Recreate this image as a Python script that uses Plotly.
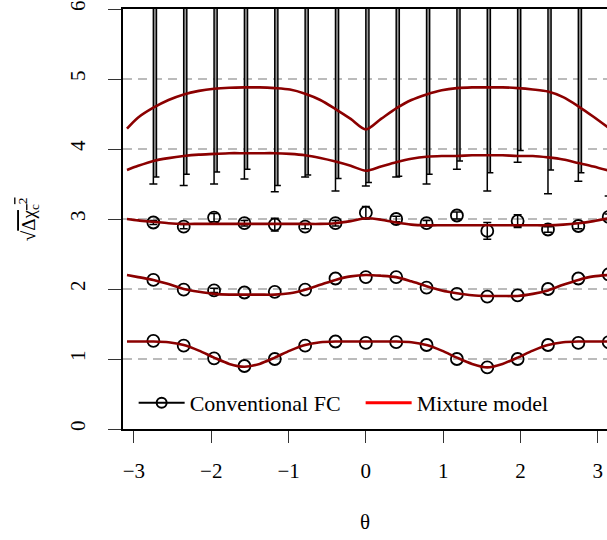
import math
import plotly.graph_objects as go

# ---------------- data ----------------
PI = math.pi
# measurement angles (k*pi/8, k=-7..8)
theta_pts = [k * PI / 8 for k in range(-7, 9)]

# Conventional FC estimates (three visible series)
conv_s1 = [1.26, 1.19, 1.01, 0.90, 1.00, 1.19, 1.25, 1.23, 1.24, 1.20, 1.00, 0.88, 1.00, 1.20, 1.23, 1.24]
conv_s2 = [2.13, 1.99, 1.98, 1.95, 1.96, 1.99, 2.15, 2.17, 2.17, 2.02, 1.93, 1.89, 1.91, 2.00, 2.15, 2.21]
conv_s3 = [2.95, 2.89, 3.02, 2.94, 2.92, 2.89, 2.94, 3.09, 3.00, 2.94, 3.05, 2.83, 2.97, 2.85, 2.90, 3.03]
err_s2 = [0, 0, 0.03, 0, 0, 0, 0, 0, 0, 0, 0, 0, 0, 0, 0, 0]
err_s3 = [0.03, 0.03, 0.06, 0.04, 0.09, 0.03, 0.04, 0.09, 0.04, 0.04, 0.05, 0.12, 0.09, 0.04, 0.04, 0.04]

# two upper series: estimates lie above the plotted range, only lower error bounds visible
conv_hidden = [7.5] * 16
lower_a = [3.50, 3.48, 3.50, 3.57, 3.39, 3.60, 3.40, 3.47, 3.60, 3.50, 3.71, 3.40, 3.81, 3.36, 3.54, 3.33]
lower_b = [3.60, 3.64, 3.67, 3.71, 3.48, 3.63, 3.58, 3.52, 3.61, 3.64, 3.83, 3.66, 3.98, 3.70, 3.66, 3.55]

# mixture model curves
theta_curve = [-3.09] + [j * PI / 16 for j in range(-15, 17)]
mix_a = [4.29, 4.45, 4.59, 4.70, 4.78, 4.83, 4.86, 4.875, 4.88, 4.88, 4.87, 4.85, 4.79, 4.70, 4.57, 4.43,
         4.28, 4.43, 4.58, 4.70, 4.78, 4.84, 4.87, 4.88, 4.88, 4.88, 4.87, 4.85, 4.82, 4.74, 4.61, 4.46, 4.30]
mix_b = [3.70, 3.76, 3.83, 3.87, 3.90, 3.92, 3.93, 3.94, 3.94, 3.94, 3.94, 3.93, 3.91, 3.87, 3.82, 3.76,
         3.69, 3.75, 3.81, 3.86, 3.89, 3.90, 3.90, 3.91, 3.91, 3.91, 3.90, 3.90, 3.88, 3.85, 3.80, 3.75, 3.69]
mix_c = [3.00, 2.98, 2.96, 2.94, 2.93, 2.93, 2.93, 2.93, 2.93, 2.93, 2.93, 2.93, 2.93, 2.93, 2.94, 2.97,
         3.01, 2.99, 2.95, 2.92, 2.91, 2.91, 2.91, 2.91, 2.91, 2.91, 2.91, 2.91, 2.91, 2.92, 2.94, 2.97, 3.01]
mix_d = [2.20, 2.17, 2.13, 2.07, 2.00, 1.96, 1.93, 1.92, 1.92, 1.92, 1.92, 1.94, 1.99, 2.06, 2.13, 2.18,
         2.20, 2.19, 2.17, 2.11, 2.04, 1.98, 1.94, 1.91, 1.90, 1.90, 1.90, 1.93, 1.98, 2.06, 2.13, 2.18, 2.20]
mix_e = [1.25, 1.25, 1.25, 1.24, 1.20, 1.12, 1.02, 0.93, 0.89, 0.93, 1.02, 1.12, 1.20, 1.24, 1.25, 1.25,
         1.25, 1.25, 1.25, 1.24, 1.20, 1.12, 1.02, 0.93, 0.88, 0.93, 1.02, 1.12, 1.20, 1.24, 1.25, 1.25, 1.25]

x_ticks = [-3, -2, -1, 0, 1, 2, 3]
y_ticks = [0, 1, 2, 3, 4, 5, 6]

# ---------------- figure ----------------
FONT = "Liberation Serif"
DARKRED = "#8B0000"
fig = go.Figure()

# upper error bars (two overlapping series, slightly offset)
fig.add_trace(go.Scatter(
    x=[t + 0.02 for t in theta_pts], y=conv_hidden, mode="markers",
    marker=dict(size=1, opacity=0), showlegend=False, hoverinfo="skip",
    error_y=dict(type="data", symmetric=False, array=[0] * 16,
                 arrayminus=[h - lo for h, lo in zip(conv_hidden, lower_b)],
                 color="#999999", thickness=2.5, width=0)))
fig.add_trace(go.Scatter(
    x=theta_pts, y=conv_hidden, mode="markers",
    marker=dict(size=1, opacity=0), showlegend=False, hoverinfo="skip",
    error_y=dict(type="data", symmetric=False, array=[0] * 16,
                 arrayminus=[h - lo for h, lo in zip(conv_hidden, lower_a)],
                 color="black", thickness=1.5, width=4)))
fig.add_trace(go.Scatter(
    x=[t + 0.04 for t in theta_pts], y=conv_hidden, mode="markers",
    marker=dict(size=1, opacity=0), showlegend=False, hoverinfo="skip",
    error_y=dict(type="data", symmetric=False, array=[0] * 16,
                 arrayminus=[h - lo for h, lo in zip(conv_hidden, lower_b)],
                 color="black", thickness=1.5, width=3)))

# visible conventional FC points
for vals, errs in [(conv_s1, None), (conv_s2, err_s2), (conv_s3, err_s3)]:
    if errs is not None:
        idx = [i for i, e in enumerate(errs) if e > 0]
        fig.add_trace(go.Scatter(
            x=[theta_pts[i] for i in idx], y=[vals[i] for i in idx], mode="markers",
            marker=dict(size=1, opacity=0), showlegend=False, hoverinfo="skip",
            error_y=dict(type="data", array=[errs[i] for i in idx],
                         color="black", thickness=1.5, width=4)))
    fig.add_trace(go.Scatter(
        x=theta_pts, y=vals, mode="markers",
        marker=dict(symbol="circle-open", size=12, color="black", line=dict(width=1.8)),
        showlegend=False))

# mixture model curves
for ys in [mix_a, mix_b, mix_c, mix_d, mix_e]:
    fig.add_trace(go.Scatter(
        x=theta_curve, y=ys, mode="lines",
        line=dict(color=DARKRED, width=2.6, shape="spline", smoothing=0.8),
        showlegend=False))

# legend entries (one legend box each, placed side by side)
fig.add_trace(go.Scatter(
    x=[None], y=[None], mode="lines+markers", name="Conventional FC", legend="legend",
    line=dict(color="black", width=2.2),
    marker=dict(symbol="circle-open", size=10, color="black", line=dict(width=2))))
fig.add_trace(go.Scatter(
    x=[None], y=[None], mode="lines", name="Mixture model", legend="legend2",
    line=dict(color="#FF0000", width=3)))

legend_common = dict(orientation="h", xanchor="left", y=0.062, yanchor="middle",
                     bgcolor="rgba(0,0,0,0)", font=dict(family=FONT, size=22), itemwidth=46)

fig.update_layout(
    width=607, height=540,
    margin=dict(l=123, r=0, t=9, b=111),
    paper_bgcolor="white", plot_bgcolor="white",
    font=dict(family=FONT, size=21, color="black"),
    showlegend=True,
    legend=dict(x=0.022, **legend_common),
    legend2=dict(x=0.491, **legend_common),
    xaxis=dict(range=[-PI, 3.1197], tickvals=x_ticks, ticktext=[("\u2212" + str(-v)) if v < 0 else str(v) for v in x_ticks],
               ticks="outside", ticklen=12, tickwidth=1.2, tickcolor="#333333",
               showline=True, linecolor="black", linewidth=2, mirror=True,
               showgrid=False, zeroline=False, ticklabelstandoff=10,
               ticklabeloverflow="allow",
               tickfont=dict(family=FONT, size=21)),
    yaxis=dict(range=[0, 6], tickvals=y_ticks, tickangle=-90,
               ticks="outside", ticklen=13, tickwidth=1.2, tickcolor="#333333",
               showline=True, linecolor="black", linewidth=2, mirror=False,
               showgrid=True, gridcolor="#BBBBBB", gridwidth=1.6, griddash="9px,6px",
               zeroline=False, ticklabelstandoff=15, ticklabeloverflow="allow",
               tickfont=dict(family=FONT, size=21)),
    annotations=[
        dict(text="\u03b8", xref="paper", yref="paper", x=0.5, y=-0.2214,
             xanchor="center", yanchor="middle", showarrow=False,
             font=dict(family=FONT, size=21)),
        dict(text="\u221a<span style='text-decoration:overline'>\u0394\u03c7<sub>c</sub><sup>2</sup></span>",
             xref="paper", yref="paper", x=-0.196, y=0.5, textangle=-90,
             xanchor="center", yanchor="middle", showarrow=False,
             font=dict(family=FONT, size=19)),
    ],
)

fig.write_html("out.html", config={"displayModeBar": False},
               post_script="document.body.style.margin='0';document.body.style.overflow='hidden';")
